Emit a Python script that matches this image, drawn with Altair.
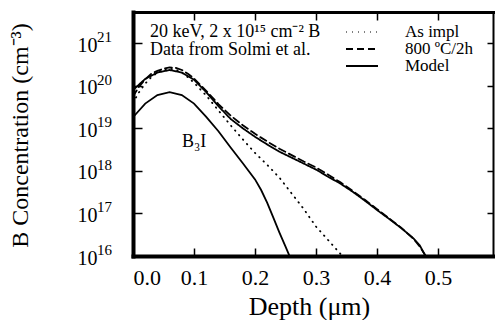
import altair as alt
import pandas as pd

FONT = "Liberation Serif"

# ---- data (log10 of concentration) ----
X_IMPL = [0.00, 0.01, 0.02, 0.03, 0.04, 0.05, 0.06, 0.07, 0.08, 0.09, 0.10, 0.12, 0.14, 0.16,
          0.18, 0.20, 0.22, 0.24, 0.26, 0.28, 0.30, 0.32, 0.34, 0.35]
LOG_IMPL = [19.60, 19.85, 20.05, 20.20, 20.31, 20.38, 20.40, 20.38, 20.31, 20.20, 20.07, 19.77,
            19.42, 19.07, 18.74, 18.42, 18.14, 17.84, 17.47, 17.10, 16.69, 16.37, 16.05, 15.95]

X_ANNEAL = [0.00, 0.01, 0.02, 0.03, 0.04, 0.05, 0.06, 0.07, 0.08, 0.09, 0.10, 0.12, 0.14, 0.16,
            0.18, 0.20, 0.22, 0.24, 0.26, 0.28, 0.30, 0.32, 0.34, 0.36, 0.38, 0.40, 0.42, 0.44,
            0.46, 0.47, 0.48]
LOG_ANNEAL = [19.75, 19.98, 20.15, 20.28, 20.35, 20.40, 20.43, 20.42, 20.37, 20.28, 20.17, 19.88,
              19.57, 19.30, 19.07, 18.87, 18.69, 18.52, 18.37, 18.22, 18.08, 17.91, 17.73, 17.53,
              17.32, 17.10, 16.88, 16.66, 16.40, 16.22, 16.00]

X_MODEL = [0.00, 0.02, 0.04, 0.06, 0.08, 0.10, 0.12, 0.14, 0.16, 0.18, 0.20, 0.22, 0.24, 0.26,
           0.28, 0.30, 0.32, 0.34, 0.36, 0.38, 0.40, 0.42, 0.44, 0.46, 0.47, 0.48]
LOG_MODEL = [19.90, 20.16, 20.31, 20.37, 20.31, 20.14, 19.85, 19.52, 19.22, 19.00, 18.80, 18.62,
             18.45, 18.31, 18.17, 18.03, 17.86, 17.70, 17.51, 17.30, 17.08, 16.87, 16.65, 16.41,
             16.25, 15.98]

X_B3I = [0.00, 0.02, 0.04, 0.06, 0.08, 0.10, 0.12, 0.14, 0.16, 0.18, 0.20, 0.21, 0.22, 0.23,
         0.24, 0.25, 0.258]
LOG_B3I = [19.26, 19.58, 19.78, 19.85, 19.78, 19.58, 19.27, 18.93, 18.55, 18.18, 17.80, 17.55,
           17.25, 16.90, 16.55, 16.22, 15.95]

SERIES = ["As impl", "800 ºC/2h", "Model"]
DASHES = [[0.5, 5.5], [7, 4], [1, 0]]

X_TICKS = [0.0, 0.1, 0.2, 0.3, 0.4, 0.5]
X_TICKS_IN = [0.1, 0.2, 0.3, 0.4, 0.5]
Y_TICKS = [1e16, 1e17, 1e18, 1e19, 1e20, 1e21]
Y_EXPONENTS = ["16", "17", "18", "19", "20", "21"]
Y_TICKS_RIGHT = [1e17, 1e18, 1e19, 1e20, 1e21]

NOTE_TEXT = ["20 keV, 2 x 10¹⁵ cm⁻² B", "Data from Solmi  et al."]
NOTE_X = [0.028, 0.028]
NOTE_LOG = [21.27, 20.84]

B3I_LABEL = ["B₃I"]
B3I_LABEL_X = [0.10]
B3I_LABEL_LOG = [18.68]


def frame(xs, logs, name):
    return pd.DataFrame({"x": xs, "c": [10 ** v for v in logs], "series": name})


lines_df = pd.concat([
    frame(X_IMPL, LOG_IMPL, SERIES[0]),
    frame(X_ANNEAL, LOG_ANNEAL, SERIES[1]),
    frame(X_MODEL, LOG_MODEL, SERIES[2]),
], ignore_index=True)
b3i_df = frame(X_B3I, LOG_B3I, "B3I")
note_df = pd.DataFrame({"x": NOTE_X, "c": [10 ** v for v in NOTE_LOG], "t": NOTE_TEXT})
b3i_lab_df = pd.DataFrame({"x": B3I_LABEL_X, "c": [10 ** v for v in B3I_LABEL_LOG], "t": B3I_LABEL})
sup_df = pd.DataFrame({"c": Y_TICKS, "t": Y_EXPONENTS})

xs = alt.Scale(domain=[0, 0.59], nice=False, zero=False)
ys = alt.Scale(type="log", domain=[1e16, 5.4e21], nice=False)

# layer 1: data lines, labelled bottom + left axes (domain thick)
main = alt.Chart(lines_df).mark_line(clip=True, color="black", strokeWidth=1.8, strokeCap="round").encode(
    x=alt.X("x:Q", scale=xs, axis=alt.Axis(
        orient="bottom", values=X_TICKS, format=".1f", ticks=False, tickSize=0,
        domainWidth=4, domainColor="black", domainCap="square", grid=False,
        labelFont=FONT, labelFontSize=22, labelColor="black", labelPadding=11,
        title="Depth (μm)", titleFont=FONT, titleFontSize=26, titleFontWeight="normal",
        titleColor="black", titleX=176, titleY=50, titleBaseline="middle")),
    y=alt.Y("c:Q", scale=ys, axis=alt.Axis(
        orient="left", values=Y_TICKS, labelExpr="'10'", ticks=False, tickSize=0,
        domainWidth=4, domainColor="black", domainCap="square", grid=False,
        labelFont=FONT, labelFontSize=20, labelColor="black", labelPadding=36, labelOffset=2,
        title="B Concentration (cm⁻³)", titleFont=FONT, titleFontSize=24, titleFontWeight="normal",
        titleColor="black", titleX=-113, titleY=123, titleBaseline="middle", titleAngle=-90)),
    strokeDash=alt.StrokeDash("series:N", scale=alt.Scale(domain=SERIES, range=DASHES),
                              legend=alt.Legend(
                                  title=None, orient="none", legendX=220, legendY=11, padding=0,
                                  symbolType="M-2,0H2", symbolSize=256, symbolStrokeWidth=1.8,
                                  symbolStrokeColor="black", symbolFillColor="black",
                                  labelFont=FONT, labelFontSize=17, labelColor="black",
                                  labelOffset=34, rowPadding=-1)),
)

# layer 2: B3I line, inward ticks bottom + left
b3i = alt.Chart(b3i_df).mark_line(clip=True, color="black", strokeWidth=1.8).encode(
    x=alt.X("x:Q", scale=xs, axis=alt.Axis(
        orient="bottom", values=X_TICKS_IN, labels=False, domain=False, grid=False,
        tickSize=8, tickWidth=1.5, tickColor="black", offset=-8, title=None)),
    y=alt.Y("c:Q", scale=ys, axis=alt.Axis(
        orient="left", values=Y_TICKS_RIGHT, labels=False, domain=False, grid=False,
        tickSize=9, tickWidth=1.5, tickColor="black", offset=-9, title=None)),
)

# layer 3: B3I label, top + right domain lines
b3i_lab = alt.Chart(b3i_lab_df).mark_text(font=FONT, fontSize=18, color="black", align="center",
                                          baseline="middle").encode(
    x=alt.X("x:Q", scale=xs, axis=alt.Axis(
        orient="top", values=X_TICKS_IN, labels=False, ticks=False, tickSize=0, grid=False,
        domainWidth=3, domainColor="black", domainCap="square", title=None)),
    y=alt.Y("c:Q", scale=ys, axis=alt.Axis(
        orient="right", values=Y_TICKS_RIGHT, labels=False, ticks=False, tickSize=0, grid=False,
        domainWidth=2, domainColor="black", domainCap="square", title=None)),
    text="t:N",
)

# layer 4: annotation, inward ticks top + right
note = alt.Chart(note_df).mark_text(font=FONT, fontSize=18, color="black", align="left",
                                    baseline="middle").encode(
    x=alt.X("x:Q", scale=xs, axis=alt.Axis(
        orient="top", values=X_TICKS_IN, labels=False, domain=False, grid=False,
        tickSize=8, tickWidth=1.5, tickColor="black", offset=-8, title=None)),
    y=alt.Y("c:Q", scale=ys, axis=alt.Axis(
        orient="right", values=Y_TICKS_RIGHT, labels=False, domain=False, grid=False,
        tickSize=6, tickWidth=1.5, tickColor="black", offset=-6, title=None)),
    text="t:N",
)

# layer 5: superscript exponents of the y tick labels
sup = alt.Chart(sup_df).mark_text(font=FONT, fontSize=15, color="black", align="left",
                                  baseline="middle", dy=-6).encode(
    x=alt.value(-36),
    y=alt.Y("c:Q", scale=ys, axis=None),
    text="t:N",
)

chart = alt.layer(main, b3i, b3i_lab, note, sup).resolve_axis(
    x="independent", y="independent"
).properties(
    width=360, height=244,
    autosize=alt.AutoSizeParams(type="none"),
    padding={"left": 133, "top": 12, "right": 2, "bottom": 64},
    background="white",
).configure_view(strokeWidth=0)

chart.save("out.html", embed_options={"renderer": "svg", "actions": False})
